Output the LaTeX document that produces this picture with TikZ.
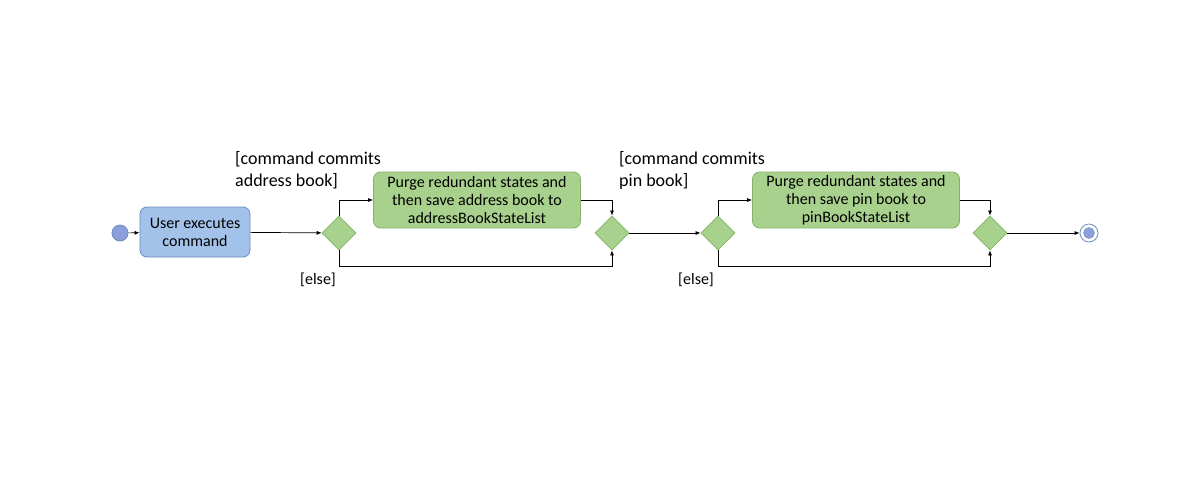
\documentclass[tikz,border=0pt]{standalone}
\usepackage{fontspec}
\setmainfont{Carlito}
\usetikzlibrary{shapes.geometric,arrows.meta}
\definecolor{bluefill}{HTML}{A3C2EA}
\definecolor{blueline}{HTML}{6C8EBF}
\definecolor{startfill}{HTML}{8D9FDB}
\definecolor{greenfill}{HTML}{A9D18E}
\definecolor{greenline}{HTML}{82B366}
\tikzset{
  act/.style={draw=#1line, fill=#1fill, rounded corners=7pt, align=center, font=\fontsize{16}{18}\selectfont, inner sep=0pt, line width=0.8pt},
  dec/.style={diamond, draw=greenline, fill=greenfill, minimum width=34pt, minimum height=34pt, inner sep=0pt, line width=0.8pt},
  flow/.style={draw=black, line width=0.7pt, -{Latex[length=5pt,width=4pt]}},
  guard/.style={align=left, anchor=north west, inner sep=0pt, font=\fontsize{18}{22}\selectfont},
  elseg/.style={anchor=north west, inner sep=0pt, font=\fontsize{16}{18}\selectfont},
}
\begin{document}
\begin{tikzpicture}[x=1pt,y=-1pt]
\useasboundingbox (0,0) rectangle (1200,480);
\node[circle, draw=blueline, fill=startfill, minimum size=16pt, inner sep=0pt, line width=0.8pt] (start) at (120,233) {};
\node[act=blue, minimum width=110pt, minimum height=50pt] (user) at (195,232) {User executes\\command};
\node[dec] (d1) at (339,233) {};
\node[act=green, minimum width=207pt, minimum height=56pt] (purgeA) at (477,200) {Purge redundant states and\\then save address book to\\addressBookStateList};
\node[dec] (m1) at (612,233) {};
\node[dec] (d2) at (718,233) {};
\node[act=green, minimum width=207pt, minimum height=56pt] (purgeP) at (856,200) {Purge redundant states and\\then save pin book to\\pinBookStateList};
\node[dec] (m2) at (990,233) {};
\node[circle, draw=blueline, fill=white, minimum size=18pt, inner sep=0pt, line width=0.8pt] (end) at (1089,233) {};
\node[circle, fill=startfill, draw=blueline, line width=0.4pt, minimum size=11pt, inner sep=0pt] (endin) at (end.center) {};

\draw[flow] (start) -- (user);
\draw[flow] (user) -- (d1);
\draw[flow] (d1.north) |- (purgeA.west);
\draw[flow] (purgeA.east) -| (m1.north);
\draw[flow] (d1.south) -- ++(0,16) -| (m1.south);
\draw[flow] (m1) -- (d2);
\draw[flow] (d2.north) |- (purgeP.west);
\draw[flow] (purgeP.east) -| (m2.north);
\draw[flow] (d2.south) -- ++(0,16) -| (m2.south);
\draw[flow] (m2) -- (end);

\node[guard] (g1) at (235,151) {[command commits\\address book]};
\node[elseg] (e1) at (300,273) {[else]};
\node[guard] (g2) at (619,151) {[command commits\\pin book]};
\node[elseg] (e2) at (678,273) {[else]};
\end{tikzpicture}
\end{document}
